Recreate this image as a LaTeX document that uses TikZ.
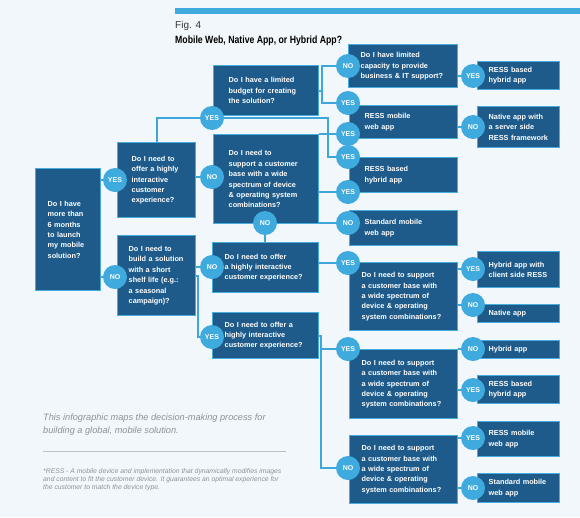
\documentclass[tikz,border=0pt]{standalone}
\usepackage{fontspec}
\setmainfont{Liberation Sans}
\newfontfamily\titlefont{Liberation Sans}[FakeStretch=0.83]
\usepackage{tikz}
\usetikzlibrary{positioning,calc}
\definecolor{MobBg}{RGB}{242,247,251}
\definecolor{MobNavy}{RGB}{30,91,138}
\definecolor{MobEdge}{RGB}{70,172,220}
\definecolor{MobDot}{RGB}{62,170,222}
\definecolor{MobLine}{RGB}{62,166,216}
\definecolor{MobGray}{RGB}{140,146,155}
\definecolor{MobRule}{RGB}{188,193,199}
\newcommand\boxfont{\fontsize{7.3}{10.4}\selectfont\bfseries}
\newcommand\dotfont{\fontsize{7}{8}\selectfont\bfseries}
\tikzset{
  qbox/.style={draw=MobEdge,fill=MobNavy,line width=1.4pt,text=white,font=\boxfont,
    align=left,anchor=north west,inner ysep=1pt},
  wide/.style={text width=78pt,inner xsep=15pt},
  slim/.style={text width=60pt,inner xsep=11pt},
  yn/.style={circle,fill=MobDot,text=white,font=\dotfont,inner sep=0pt,minimum size=24pt},
  link/.style={draw=MobLine,line width=1.9pt},
}

\begin{document}
\begin{tikzpicture}[x=1pt,y=-1pt]
\fill[MobBg] (0,0) rectangle (580,517);
\fill[MobDot] (175,8) rectangle (580,14);
\node[anchor=base west,inner sep=0pt,font=\fontsize{10}{12}\selectfont,text=black!80] (fig) at (175,28) {Fig. 4};
\node[anchor=base west,inner sep=0pt,font=\titlefont\fontsize{10.5}{12}\selectfont\bfseries] (title) at (175,43) {Mobile Web, Native App, or Hybrid App?};
% questions
\node[qbox,text width=41pt,inner xsep=12pt,minimum height=122pt] (A) at (35,168) {Do I have\\more than\\6 months\\to launch\\my mobile\\solution?};
\node[qbox,text width=50pt,inner xsep=14pt,minimum height=75pt] (B) at (117,142) {Do I need to\\offer a highly\\interactive\\customer\\experience?};
\node[qbox,text width=56pt,inner xsep=11pt,minimum height=80pt] (C) at (117,235) {Do I need to\\build a solution\\with a short\\shelf life (e.g.:\\a seasonal\\campaign)?};
\node[qbox,text width=75pt,inner xsep=15pt,minimum height=50pt] (D) at (213,65) {Do I have a limited\\budget for creating\\the solution?};
\node[qbox,text width=75pt,inner xsep=15pt,minimum height=89pt] (E) at (213,134) {Do I need to\\support a customer\\base with a wide\\spectrum of device\\\& operating system\\combinations?};
\node[qbox,text width=82pt,inner xsep=12pt,minimum height=50pt] (F) at (212,242) {Do I need to offer\\a highly interactive\\customer experience?};
\node[qbox,text width=82pt,inner xsep=12pt,minimum height=46pt] (G) at (212,312) {Do I need to offer a\\highly interactive\\customer experience?};
\node[qbox,text width=85pt,inner xsep=12pt,minimum height=43pt] (H) at (348,44) {Do I have limited\\capacity to provide\\business \& IT support?};
\node[qbox,text width=84pt,inner xsep=12pt,minimum height=68pt] (N) at (349,262) {Do I need to support\\a customer base with\\a wide spectrum of\\device \& operating\\system combinations?};
\node[qbox,text width=84pt,inner xsep=12pt,minimum height=69pt] (Q) at (349,349) {Do I need to support\\a customer base with\\a wide spectrum of\\device \& operating\\system combinations?};
\node[qbox,text width=84pt,inner xsep=12pt,minimum height=68pt] (R) at (349,435) {Do I need to support\\a customer base with\\a wide spectrum of\\device \& operating\\system combinations?};
% answers
\node[qbox,wide,minimum height=33pt] (I) at (349,105) {RESS mobile\\web app};
\node[qbox,wide,minimum height=35pt] (J) at (349,157) {RESS based\\hybrid app};
\node[qbox,wide,minimum height=35pt] (K) at (349,210) {Standard mobile\\web app};
\node[qbox,slim,minimum height=28pt] (L) at (477,61) {RESS based\\hybrid app};
\node[qbox,slim,minimum height=41pt] (M) at (477,106) {Native app with\\a server side\\RESS framework};
\node[qbox,slim,minimum height=36pt] (O) at (477,251) {Hybrid app with\\client side RESS};
\node[qbox,slim,minimum height=18pt] (P) at (477,304) {Native app};
\node[qbox,slim,minimum height=18pt] (S) at (477,340) {Hybrid app};
\node[qbox,slim,minimum height=28pt] (T) at (477,375) {RESS based\\hybrid app};
\node[qbox,slim,minimum height=35pt] (U) at (477,421) {RESS mobile\\web app};
\node[qbox,slim,minimum height=29pt] (V) at (477,473) {Standard mobile\\web app};
% yes / no dots
\node[yn] (a-yes) at (115,180) {YES};
\node[yn] (a-no) at (115,277) {NO};
\node[yn] (b-yes) at (212,118) {YES};
\node[yn] (b-no) at (212,177) {NO};
\node[yn] (c-no) at (212,267) {NO};
\node[yn] (c-yes) at (212,337) {YES};
\node[yn] (e-down) at (265,223) {NO};
\node[yn] (d-no) at (348,66) {NO};
\node[yn] (d-yes) at (348,103) {YES};
\node[yn] (e-yes1) at (348,134) {YES};
\node[yn] (j-yes) at (348,157) {YES};
\node[yn] (e-yes2) at (348,192) {YES};
\node[yn] (e-no) at (348,223) {NO};
\node[yn] (f-yes) at (348,263) {YES};
\node[yn] (g-yes) at (348,349) {YES};
\node[yn] (g-no) at (348,468) {NO};
\node[yn] (h-yes) at (473,76) {YES};
\node[yn] (i-no) at (473,127) {NO};
\node[yn] (n-yes) at (473,269) {YES};
\node[yn] (n-no) at (473,305) {NO};
\node[yn] (q-no) at (473,349) {NO};
\node[yn] (q-yes) at (473,390) {YES};
\node[yn] (r-yes) at (473,438) {YES};
\node[yn] (r-no) at (473,488) {NO};
% connectors
\draw[link] (A.east |- a-yes) -- (a-yes);
\draw[link] (A.east |- a-no) -- (a-no);
\draw[link] (B.north) |- (b-yes);
\draw[link] (b-yes) -| ([xshift=-20pt]j-yes.center) -- (j-yes);
\draw[link] (B.east |- b-no) -- (b-no);
\draw[link] (C.east |- c-no) -- (c-no);
\draw[link] (C.east) -- ++(2,0) |- (c-yes);
\draw[link] (D.east) -- ++(3,0) |- (d-no);
\draw[link] (D.east) -- ++(3,0) |- (d-yes);
\draw[link] (E.east |- e-yes1) -- (e-yes1);
\draw[link] (E.east |- e-yes2) -- (e-yes2);
\draw[link] (E.east |- e-no) -- (e-no);
\draw[link] (e-down) -- (F.north -| e-down);
\draw[link] (F.east |- f-yes) -- (f-yes);
\draw[link] (G.east) -- ++(2,0) |- (g-yes);
\draw[link] (G.east) -- ++(2,0) |- (g-no);
\draw[link] (H.east |- h-yes) -- (h-yes);
\draw[link] (I.east |- i-no) -- (i-no);
\draw[link] (N.east |- n-yes) -- (n-yes);
\draw[link] (N.east |- n-no) -- (n-no);
\draw[link] (Q.east |- q-no) -- (q-no);
\draw[link] (Q.east |- q-yes) -- (q-yes);
\draw[link] (R.east |- r-yes) -- (r-yes);
\draw[link] (R.east |- r-no) -- (r-no);
% notes
\node[anchor=north west,inner sep=0pt,align=left,text=MobGray,
  font=\fontsize{9.2}{12.7}\selectfont\itshape] (intro) at (43,414)
  {This infographic maps the decision-making process for\\building a global, mobile solution.};
\draw[MobRule,line width=0.8pt] (43,451) -- (286,451);
\node[anchor=north west,inner sep=0pt,align=left,text=MobGray,
  font=\fontsize{6.8}{8.3}\selectfont\itshape] (note) at (43,468)
  {*RESS - A mobile device and implementation that dynamically modifies images\\and content to fit the customer device. It guarantees an optimal experience for\\the customer to match the device type.};
\end{tikzpicture}
\end{document}
